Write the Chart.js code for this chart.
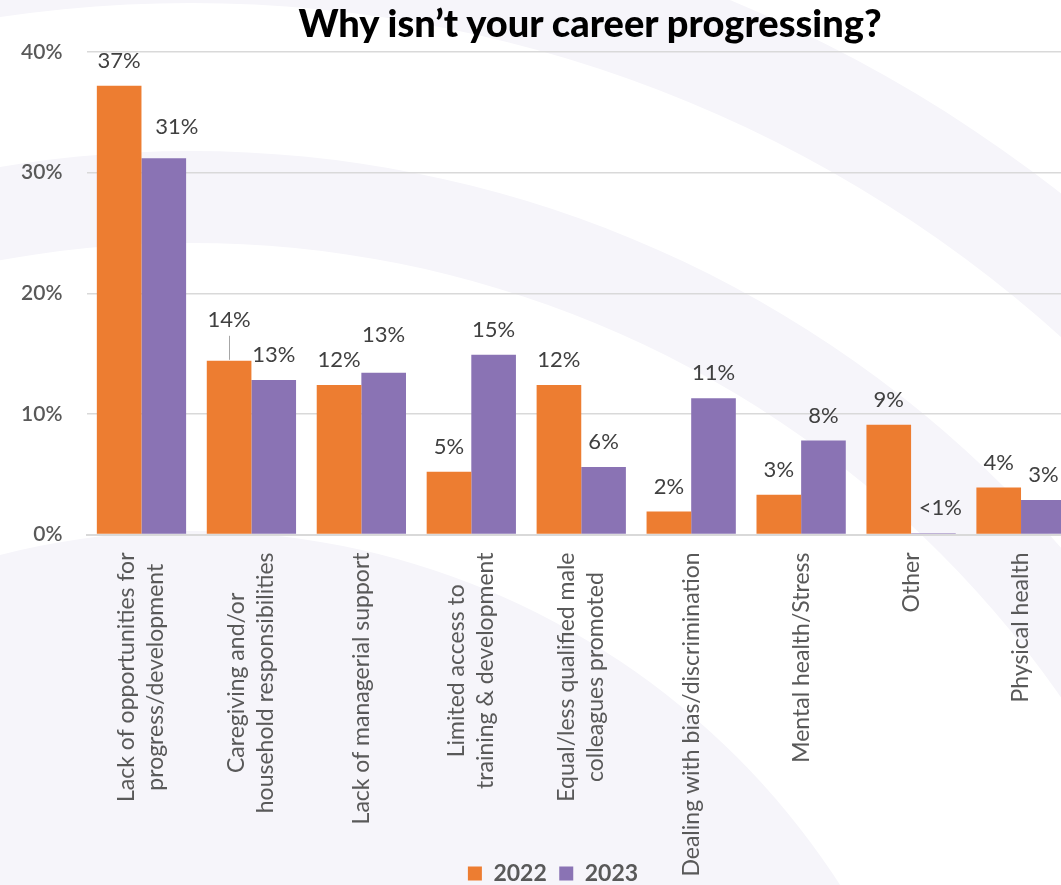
<!DOCTYPE html>
<html lang="en">
<head>
<meta charset="utf-8">
<title>Why isn’t your career progressing?</title>
<script src="https://cdn.jsdelivr.net/npm/chart.js@4.4.1/dist/chart.umd.min.js"></script>
<style>
    html, body {
        margin: 0;
        padding: 0;
        background: #ffffff;
        overflow: hidden;
    }
    .chart-wrap {
        position: relative;
        width: 1076px;
        height: 895px;
    }
    .chart-title {
        position: absolute;
        top: 3px;
        left: 290px;
        width: 600px;
        margin: 0;
        text-align: center;
        font-family: Lato, 'Noto Sans', sans-serif;
        font-weight: 900;
        font-size: 38px;
        line-height: 38px;
        color: #000000;
        white-space: nowrap;
        pointer-events: none;
    }
    canvas { display: block; }
</style>
</head>
<body>
<div class="chart-wrap">
    <canvas id="careerChart" width="1076" height="895"></canvas>
    <h1 class="chart-title">Why isn’t your career progressing?</h1>
</div>

<script>
const categories = [
    ['Lack of opportunities for', 'progress/development'],
    ['Caregiving and/or', 'household responsibilities'],
    ['Lack of managerial support'],
    ['Limited access to', 'training & development'],
    ['Equal/less qualified male', 'colleagues promoted'],
    ['Dealing with bias/discrimination'],
    ['Mental health/Stress'],
    ['Other'],
    ['Physical health']
];
const seriesNames = ['2022', '2023'];
const values2022 = [37.2, 14.4, 12.4, 5.2, 12.4, 1.9, 3.3, 9.1, 3.9];
const values2023 = [31.2, 12.8, 13.4, 14.9, 5.6, 11.3, 7.8, 0.1, 2.85];
const yTickValues = [0, 10, 20, 30, 40];

const colors = {
    y2022: '#ed7d31',
    y2023: '#8a73b4',
    ring: '#f6f5fa',
    grid: '#d9d9d9',
    axisText: '#595959',
    valueText: '#404040',
    leader: '#a6a6a6'
};

// hand-placed value labels (dataset-index keys), everything else sits just above its bar
const labelNudge = {
    '1-0': { dx: 13, dy: -6 },
    '0-1': { dx: 0, dy: -16, leader: true },
    '1-2': { dx: 0, dy: -13 },
    '1-7': { dx: 7, dy: 0 }
};

Chart.defaults.font.family = "Lato, 'Noto Sans', sans-serif";
Chart.defaults.color = colors.axisText;

// soft concentric bands behind the chart
const ringBackdrop = {
    id: 'ringBackdrop',
    beforeDraw(chart) {
        const { ctx, width, height } = chart;
        const cx = 191, cy = 1303;
        ctx.save();
        ctx.fillStyle = '#ffffff';
        ctx.fillRect(0, 0, width, height);
        ctx.fillStyle = colors.ring;

        ctx.beginPath();
        ctx.arc(cx, cy, 772, 0, Math.PI * 2);
        ctx.fill();

        [[1060, 1152], [1300, 1410]].forEach(([inner, outer]) => {
            ctx.beginPath();
            ctx.arc(cx, cy, outer, 0, Math.PI * 2);
            ctx.arc(cx, cy, inner, 0, Math.PI * 2, true);
            ctx.fill();
        });
        ctx.restore();
    }
};

// the legend sits a little right of the canvas centre
const legendOffset = {
    id: 'legendOffset',
    afterLayout(chart) {
        const legend = chart.legend;
        if (!legend) return;
        legend.left += 15;
        legend.right += 15;
    }
};

// percentage labels above each bar
const barValueLabels = {
    id: 'barValueLabels',
    afterDatasetsDraw(chart) {
        const { ctx } = chart;
        ctx.save();
        ctx.font = "22px Lato, 'Noto Sans', sans-serif";
        ctx.fillStyle = colors.valueText;
        ctx.textAlign = 'center';
        ctx.textBaseline = 'middle';

        chart.data.datasets.forEach((ds, di) => {
            const meta = chart.getDatasetMeta(di);
            meta.data.forEach((bar, i) => {
                const v = ds.data[i];
                const text = v < 1 ? '<1%' : Math.round(v) + '%';
                const nudge = labelNudge[di + '-' + i] || { dx: 0, dy: 0 };
                const x = bar.x + nudge.dx;
                const y = bar.y - 25 + nudge.dy;
                ctx.fillText(text, x, y);

                if (nudge.leader) {
                    ctx.strokeStyle = colors.leader;
                    ctx.lineWidth = 1;
                    ctx.beginPath();
                    ctx.moveTo(Math.round(bar.x) + 0.5, y + 16);
                    ctx.lineTo(Math.round(bar.x) + 0.5, bar.y - 1);
                    ctx.stroke();
                }
            });
        });
        ctx.restore();
    }
};

// vertical category names, each line centred on the longest one
const categoryLabels = {
    id: 'categoryLabels',
    afterDraw(chart) {
        const { ctx } = chart;
        const xScale = chart.scales.x;
        const lineHeight = 29;
        ctx.save();
        ctx.font = "23px Lato, 'Noto Sans', sans-serif";
        ctx.fillStyle = colors.axisText;
        ctx.textAlign = 'center';
        ctx.textBaseline = 'middle';

        chart.data.labels.forEach((lines, i) => {
            const x = xScale.getPixelForValue(i);
            const longest = Math.max(...lines.map(l => ctx.measureText(l).width));
            const midY = xScale.top + 18 + longest / 2;
            ctx.save();
            ctx.translate(x, midY);
            ctx.rotate(-Math.PI / 2);
            lines.forEach((line, j) => {
                ctx.fillText(line, 0, (j - (lines.length - 1) / 2) * lineHeight);
            });
            ctx.restore();
        });
        ctx.restore();
    }
};

function init() {
    const ctx = document.getElementById('careerChart').getContext('2d');

    new Chart(ctx, {
        type: 'bar',
        data: {
            labels: categories,
            datasets: [
                {
                    label: seriesNames[0],
                    data: values2022,
                    backgroundColor: colors.y2022,
                    categoryPercentage: 0.812,
                    barPercentage: 1.0
                },
                {
                    label: seriesNames[1],
                    data: values2023,
                    backgroundColor: colors.y2023,
                    categoryPercentage: 0.812,
                    barPercentage: 1.0
                }
            ]
        },
        options: {
            responsive: false,
            animation: false,
            layout: {
                padding: { left: 0, top: 52, right: 0, bottom: 0 }
            },
            plugins: {
                title: { display: false },
                tooltip: { enabled: false },
                legend: {
                    position: 'bottom',
                    labels: {
                        boxWidth: 14,
                        boxHeight: 14,
                        padding: 12.5,
                        color: colors.axisText,
                        font: { size: 23, weight: 'bold' }
                    }
                }
            },
            scales: {
                x: {
                    grid: { display: false },
                    border: { display: true, color: colors.grid, width: 2 },
                    ticks: { display: false },
                    afterFit: scale => { scale.height = 315; }
                },
                y: {
                    min: 0,
                    max: 40,
                    afterBuildTicks: scale => {
                        scale.ticks = yTickValues.map(v => ({ value: v }));
                    },
                    grid: {
                        color: colors.grid,
                        lineWidth: 1.5,
                        drawTicks: false
                    },
                    border: { display: false },
                    ticks: {
                        padding: 24,
                        color: colors.axisText,
                        font: { size: 21, weight: '600' },
                        callback: value => value + '%'
                    },
                    afterFit: scale => { scale.width = 86.5; }
                }
            }
        },
        plugins: [ringBackdrop, legendOffset, barValueLabels, categoryLabels]
    });
}

window.addEventListener('DOMContentLoaded', init);
</script>
</body>
</html>
